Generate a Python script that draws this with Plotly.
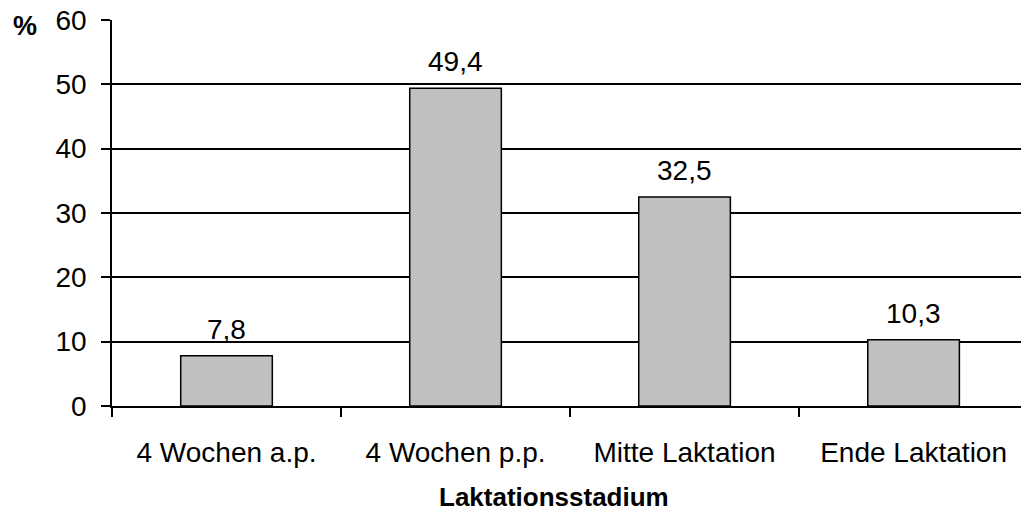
import plotly.graph_objects as go

# Anteile je Laktationsstadium (%)
stadien = ["4 Wochen a.p.", "4 Wochen p.p.", "Mitte Laktation", "Ende Laktation"]
anteile = [7.8, 49.4, 32.5, 10.3]
y_ticks = [0, 10, 20, 30, 40, 50, 60]

FONT = "Liberation Sans, Arial, sans-serif"
pos = list(range(len(stadien)))
grenzen = [p - 0.5 for p in pos]
x_range = [-0.5, 3.469]

fig = go.Figure()
fig.add_trace(go.Bar(
    x=pos, y=anteile, width=0.4,
    marker=dict(color="#C0C0C0", line=dict(color="black", width=1.5)),
    hoverinfo="skip", showlegend=False,
))

# Werte über den Balken (Dezimalkomma)
for p, v in zip(pos, anteile):
    fig.add_annotation(
        x=p, y=v, xref="x", yref="y", text=f"{v:.1f}".replace(".", ","),
        showarrow=False, yanchor="bottom", yshift=9,
        font=dict(family=FONT, size=28, color="black"),
    )

# Einheit links oben neben der y-Achse
fig.add_annotation(
    x=-0.0957, y=0.985, xref="paper", yref="paper", text="<b>%</b>",
    showarrow=False, xanchor="center", yanchor="middle",
    font=dict(family=FONT, size=27, color="black"),
)

# Achsentitel unter den Kategorien
fig.add_annotation(
    x=0.486, y=-0.236, xref="paper", yref="paper", text="<b>Laktationsstadium</b>",
    showarrow=False, xanchor="center", yanchor="middle",
    font=dict(family=FONT, size=26, color="black"),
)

# unsichtbare Spur für die Trennstriche zwischen den Kategorien
fig.add_trace(go.Scatter(x=[None], y=[None], xaxis="x2", showlegend=False, hoverinfo="skip"))

fig.update_layout(
    width=1021, height=513,
    margin=dict(l=112, r=0, t=20, b=107),
    paper_bgcolor="white", plot_bgcolor="white",
    font=dict(family=FONT, size=28, color="black"),
    xaxis=dict(
        range=x_range, tickvals=pos, ticktext=stadien, ticks="",
        showgrid=False, zeroline=False, showline=True, linecolor="black", linewidth=1.5,
        ticklabelstandoff=21, tickfont=dict(size=28),
    ),
    xaxis2=dict(
        overlaying="x", matches="x", range=x_range, side="bottom",
        tickvals=grenzen, ticks="outside", ticklen=10, tickwidth=1.5, tickcolor="black",
        showticklabels=False, showgrid=False, zeroline=False, showline=False,
    ),
    yaxis=dict(
        range=[0, 60], tickvals=y_ticks, ticks="outside", ticklen=9, tickwidth=1.5,
        tickcolor="black", showgrid=True, gridcolor="black", gridwidth=1.5,
        zeroline=False, showline=True, linecolor="black", linewidth=1.5,
        ticklabelstandoff=9, tickfont=dict(size=28),
    ),
    bargap=0.6,
)

fig.write_html("out.html")
